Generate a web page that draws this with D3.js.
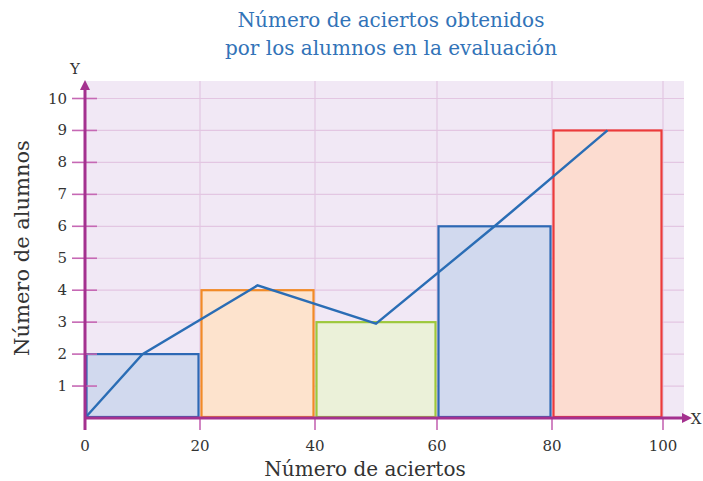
<!DOCTYPE html>
<html>
<head>
<meta charset="utf-8">
<script src="https://cdn.jsdelivr.net/npm/d3@7"></script>
<style>
  body { margin: 0; background: #fff; }
  svg { display: block; }
</style>
</head>
<body>
<div id="chart"></div>
<script>
// intervalos de aciertos y número de alumnos
const binStarts = [0, 20, 40, 60, 80];
const binWidth = 20;
const alumnos = [2, 4, 3, 6, 9];
// polígono de frecuencias (marcas de clase)
const polyX = [0, 10, 30, 50, 70, 90];
const polyY = [0, 2, 4.15, 2.95, 6, 9];
const xTicks = [0, 20, 40, 60, 80, 100];
const yTicks = [1, 2, 3, 4, 5, 6, 7, 8, 9, 10];
const fills = ["#d1d9ee", "#fde3cd", "#ebf1d9", "#d1d9ee", "#fcdcd0"];
const strokes = ["#2d68b4", "#f28a26", "#9dc83c", "#2d68b4", "#eb3b3b"];

const width = 703;
const height = 481;
const font = "'DejaVu Serif', 'Liberation Serif', serif";
const axisColor = "#a4318f";

const svg = d3.select("#chart").append("svg")
  .attr("width", width).attr("height", height);

// la cuadrícula del original no es del todo regular
const x = d3.scaleLinear().domain(xTicks).range([85, 200, 315, 437, 552, 663]);
const y = d3.scaleLinear().domain([0, 10]).range([418, 98.5]);
const plotRight = 684, plotTop = 81;

// fondo
svg.append("rect")
  .attr("x", x(0)).attr("y", plotTop)
  .attr("width", plotRight - x(0)).attr("height", y(0) - plotTop)
  .attr("fill", "#f1e8f5");

// rejilla
svg.append("g").selectAll("line").data(yTicks).join("line")
  .attr("x1", x(0)).attr("x2", plotRight)
  .attr("y1", d => y(d)).attr("y2", d => y(d))
  .attr("stroke", "#e3c6e2").attr("stroke-width", 1.2);
svg.append("g").selectAll("line").data(xTicks.slice(1)).join("line")
  .attr("x1", d => x(d)).attr("x2", d => x(d))
  .attr("y1", plotTop).attr("y2", y(0))
  .attr("stroke", "#e3c6e2").attr("stroke-width", 1.2);

// barras
svg.append("g").selectAll("rect").data(alumnos).join("rect")
  .attr("x", (d, i) => x(binStarts[i]) + 1.5)
  .attr("width", (d, i) => x(binStarts[i] + binWidth) - x(binStarts[i]) - 3)
  .attr("y", d => y(d))
  .attr("height", d => y(0) - y(d) - 1)
  .attr("fill", (d, i) => fills[i])
  .attr("stroke", (d, i) => strokes[i])
  .attr("stroke-width", 2.2);

// polígono
const line = d3.line().x(d => x(d[0])).y(d => y(d[1]));
svg.append("path")
  .datum(polyX.map((v, i) => [v, polyY[i]]))
  .attr("d", line)
  .attr("fill", "none")
  .attr("stroke", "#2a6db5")
  .attr("stroke-width", 2.4);

// ejes
svg.append("g").selectAll("line").data(yTicks).join("line")
  .attr("x1", 72).attr("x2", 97)
  .attr("y1", d => y(d)).attr("y2", d => y(d))
  .attr("stroke", "#c668b4").attr("stroke-width", 1.6);
svg.append("g").selectAll("line").data(xTicks).join("line")
  .attr("x1", d => x(d)).attr("x2", d => x(d))
  .attr("y1", y(0)).attr("y2", 430)
  .attr("stroke", "#c668b4").attr("stroke-width", 1.6);

svg.append("line")
  .attr("x1", x(0)).attr("x2", x(0)).attr("y1", 430).attr("y2", 86)
  .attr("stroke", axisColor).attr("stroke-width", 3);
svg.append("path")
  .attr("d", `M${x(0) - 5},${90} L${x(0)},${80} L${x(0) + 5},${90} Z`)
  .attr("fill", axisColor);
svg.append("line")
  .attr("x1", x(0)).attr("x2", 686).attr("y1", y(0)).attr("y2", y(0))
  .attr("stroke", axisColor).attr("stroke-width", 3);
svg.append("path")
  .attr("d", `M${682},${y(0) - 5} L${692},${y(0)} L${682},${y(0) + 5} Z`)
  .attr("fill", axisColor);

// etiquetas de marcas
svg.append("g").selectAll("text").data(yTicks).join("text")
  .attr("x", 67).attr("y", d => y(d) + 5)
  .attr("text-anchor", "end")
  .attr("font-family", font).attr("font-size", 15)
  .attr("fill", "#333").text(d => d);
svg.append("g").selectAll("text").data(xTicks).join("text")
  .attr("x", d => x(d)).attr("y", 451)
  .attr("text-anchor", "middle")
  .attr("font-family", font).attr("font-size", 15)
  .attr("fill", "#333").text(d => d);

svg.append("text").attr("x", 75).attr("y", 74)
  .attr("text-anchor", "middle").attr("font-family", font)
  .attr("font-size", 15).attr("fill", "#333").text("Y");
svg.append("text").attr("x", 696).attr("y", y(0) + 6)
  .attr("text-anchor", "middle").attr("font-family", font)
  .attr("font-size", 15).attr("fill", "#333").text("X");

// títulos de ejes
svg.append("text").attr("x", 365).attr("y", 476)
  .attr("text-anchor", "middle").attr("font-family", font)
  .attr("font-size", 20).attr("fill", "#333").text("Número de aciertos");
svg.append("text")
  .attr("transform", "translate(29,248) rotate(-90)")
  .attr("text-anchor", "middle").attr("font-family", font)
  .attr("font-size", 21).attr("fill", "#333").text("Número de alumnos");

// título
const title = svg.append("text").attr("text-anchor", "middle")
  .attr("font-family", font).attr("font-size", 20).attr("fill", "#3273b8");
title.append("tspan").attr("x", 391).attr("y", 27).text("Número de aciertos obtenidos");
title.append("tspan").attr("x", 391).attr("y", 55).text("por los alumnos en la evaluación");
</script>
</body>
</html>
